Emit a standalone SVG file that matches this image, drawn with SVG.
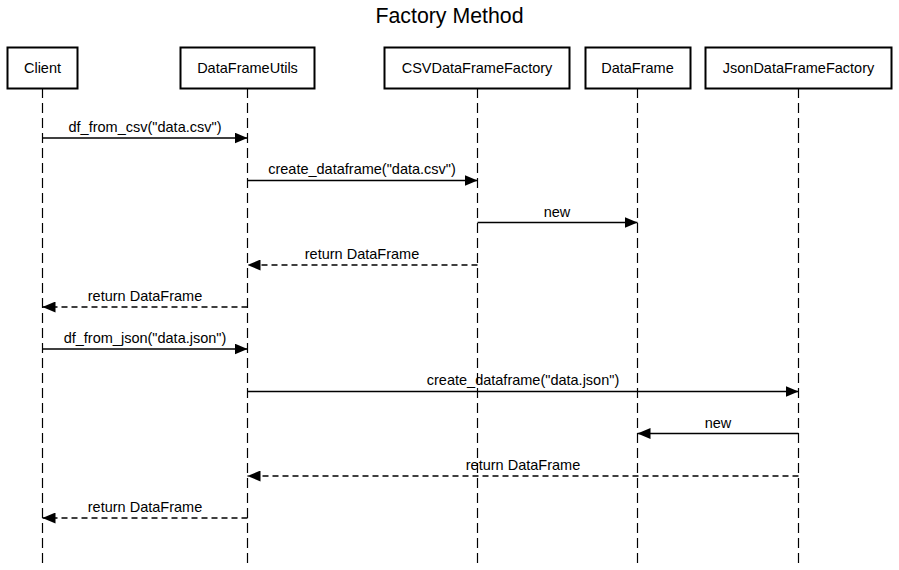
<svg xmlns="http://www.w3.org/2000/svg" width="899" height="570" viewBox="0 0 899 570">
<style>
text{font-family:"Liberation Sans",Arial,sans-serif;fill:#000}
.actor rect{fill:#fff;stroke:#000;stroke-width:2}
.actor text{font-size:14.5px;text-anchor:middle;dominant-baseline:central}
.life{stroke:#000;stroke-width:1.2;stroke-dasharray:10,5}
.msg{stroke:#000;stroke-width:1.3;fill:none}
.ret{stroke-dasharray:6,4}
.lbl{font-size:14.5px;text-anchor:middle}
</style>
<defs>
<marker id="ah" viewBox="0 0 13 11" refX="13" refY="5.5" markerWidth="13" markerHeight="11" markerUnits="userSpaceOnUse" orient="auto">
<path d="M0,0 L13,5.5 L0,11 Z" fill="#000"/>
</marker>
</defs>
<rect width="899" height="570" fill="#fff"/>
<text x="449.5" y="23" font-size="21.3" text-anchor="middle">Factory Method</text>
<g id="lifelines">
<line class="life" x1="42.5" y1="88" x2="42.5" y2="566"/>
<line class="life" x1="247.5" y1="88" x2="247.5" y2="566"/>
<line class="life" x1="477.5" y1="88" x2="477.5" y2="566"/>
<line class="life" x1="637.5" y1="88" x2="637.5" y2="566"/>
<line class="life" x1="798.5" y1="88" x2="798.5" y2="566"/>
</g>
<g id="Client" class="actor"><rect x="7.5" y="47.5" width="70" height="41"/><text x="42.5" y="68">Client</text></g>
<g id="DataFrameUtils" class="actor"><rect x="180.5" y="47.5" width="134" height="41"/><text x="247.5" y="68">DataFrameUtils</text></g>
<g id="CSVDataFrameFactory" class="actor"><rect x="384.5" y="47.5" width="185" height="41"/><text x="477" y="68">CSVDataFrameFactory</text></g>
<g id="DataFrame" class="actor"><rect x="585.5" y="47.5" width="105" height="41"/><text x="637.5" y="68">DataFrame</text></g>
<g id="JsonDataFrameFactory" class="actor"><rect x="705.5" y="47.5" width="186" height="41"/><text x="798.5" y="68">JsonDataFrameFactory</text></g>
<g id="connectors">
<line class="msg" x1="42.5" y1="138" x2="247.5" y2="138" marker-end="url(#ah)"/>
<text class="lbl" x="145" y="132">df_from_csv("data.csv")</text>
<line class="msg" x1="247.5" y1="180.5" x2="477.5" y2="180.5" marker-end="url(#ah)"/>
<text class="lbl" x="362" y="174">create_dataframe("data.csv")</text>
<line class="msg" x1="477.5" y1="222.5" x2="637.5" y2="222.5" marker-end="url(#ah)"/>
<text class="lbl" x="557" y="217">new</text>
<line class="msg ret" x1="477.5" y1="265" x2="247.5" y2="265" marker-end="url(#ah)"/>
<text class="lbl" x="362" y="259">return DataFrame</text>
<line class="msg ret" x1="247.5" y1="307" x2="42.5" y2="307" marker-end="url(#ah)"/>
<text class="lbl" x="145" y="301">return DataFrame</text>
<line class="msg" x1="42.5" y1="349" x2="247.5" y2="349" marker-end="url(#ah)"/>
<text class="lbl" x="145" y="343">df_from_json("data.json")</text>
<line class="msg" x1="247.5" y1="391.5" x2="798.5" y2="391.5" marker-end="url(#ah)"/>
<text class="lbl" x="523" y="385">create_dataframe("data.json")</text>
<line class="msg" x1="798.5" y1="433.5" x2="637.5" y2="433.5" marker-end="url(#ah)"/>
<text class="lbl" x="718" y="428">new</text>
<line class="msg ret" x1="798.5" y1="476" x2="247.5" y2="476" marker-end="url(#ah)"/>
<text class="lbl" x="523" y="470">return DataFrame</text>
<line class="msg ret" x1="247.5" y1="518" x2="42.5" y2="518" marker-end="url(#ah)"/>
<text class="lbl" x="145" y="512">return DataFrame</text>
</g>
</svg>
